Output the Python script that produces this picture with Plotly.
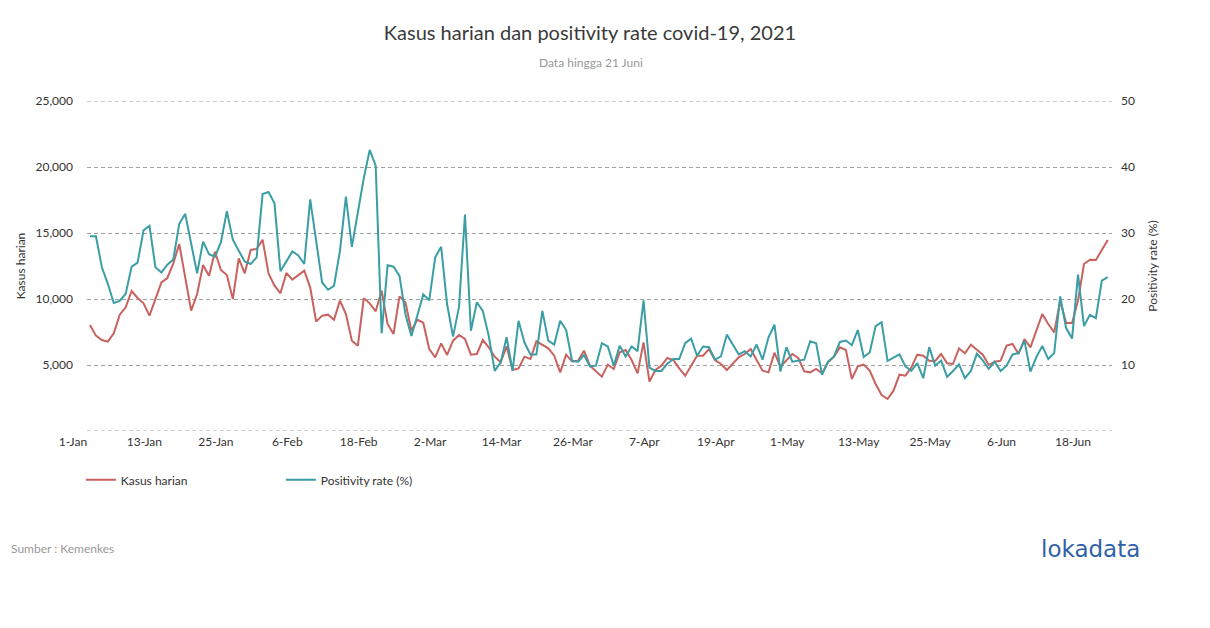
import plotly.graph_objects as go
import pandas as pd

# Dates: 1 Jan 2021 - 21 Jun 2021 (daily)
dates = pd.date_range("2021-01-01", "2021-06-21", freq="D")

kasus_harian = [
    8030, 7222, 6894, 6768, 7399, 8813, 9369, 10606, 10076, 9672,
    8737, 10025, 11263, 11591, 12702, 14167, 11600, 9116, 10379, 12576,
    11768, 13586, 12197, 11818, 10000, 13081, 11944, 13712, 13788, 14495,
    11944, 11010, 10429, 11970, 11465, 11818, 12146, 10884, 8283, 8737,
    8813, 8434, 9874, 8864, 6843, 6465, 10051, 9672, 9066, 10631,
    8106, 7348, 10202, 9747, 7601, 8434, 8200, 6212, 5581, 6641,
    5758, 6843, 7273, 6970, 5783, 5833, 6894, 6338, 5631, 5202,
    6414, 4621, 4747, 5631, 5455, 6793, 6540, 6263, 5707, 4444,
    5783, 5278, 5328, 6086, 4949, 4550, 4116, 5025, 4697, 5960,
    6136, 5379, 4369, 6717, 3737, 4621, 4949, 5530, 5379, 4747,
    4192, 4949, 5707, 5707, 6212, 5379, 5076, 4621, 5076, 5581,
    5833, 6212, 5379, 4571, 4444, 5934, 4874, 5379, 5833, 5530,
    4520, 4444, 4697, 4369, 5202, 5631, 6338, 6136, 3939, 4899,
    5025, 4571, 3561, 2727, 2424, 3056, 4268, 4192, 4823, 5783,
    5707, 5328, 5303, 5833, 5126, 5076, 6263, 5884, 6540, 6162,
    5783, 5000, 5253, 5328, 6465, 6591, 5833, 6970, 6338, 7601,
    8864, 8106, 7475, 9874, 8182, 8182, 9874, 12652, 12980, 12955,
    13712, 14470,
]

positivity_rate = [
    29.5, 29.5, 24.8, 22.3, 19.4, 19.7, 20.8, 24.9, 25.5, 30.4,
    31.1, 24.8, 24.0, 25.2, 26.0, 31.4, 32.9, 28.3, 23.9, 28.7,
    26.8, 26.4, 28.6, 33.3, 29.0, 27.3, 25.7, 25.3, 26.3, 35.9,
    36.2, 34.5, 24.2, 25.7, 27.2, 26.6, 25.3, 35.1, 28.8, 22.5,
    21.4, 22.0, 27.3, 35.5, 27.9, 32.9, 38.3, 42.6, 40.2, 14.8,
    25.1, 24.9, 23.5, 17.7, 14.4, 17.5, 20.7, 19.8, 26.3, 27.9,
    19.2, 14.3, 18.8, 32.8, 15.2, 19.5, 18.2, 14.4, 9.1, 10.4,
    14.2, 9.1, 16.7, 13.4, 11.6, 11.6, 18.2, 13.7, 13.1, 16.7,
    15.3, 10.6, 10.5, 11.5, 9.8, 9.9, 13.3, 12.8, 9.9, 12.9,
    11.3, 12.8, 12.1, 19.8, 9.6, 9.1, 9.1, 10.2, 10.9, 10.9,
    13.3, 14.0, 11.4, 12.8, 12.7, 10.8, 11.3, 14.6, 13.2, 11.6,
    12.1, 11.3, 13.1, 10.8, 14.2, 16.1, 9.0, 12.7, 10.5, 10.6,
    10.8, 13.6, 13.3, 8.5, 10.5, 11.3, 13.5, 13.7, 13.0, 15.3,
    11.2, 11.9, 15.9, 16.5, 10.6, 11.1, 11.6, 9.8, 9.1, 10.3,
    8.0, 12.7, 9.9, 10.7, 8.2, 9.1, 10.1, 8.0, 9.1, 11.7,
    10.7, 9.4, 10.5, 9.1, 9.9, 11.6, 11.8, 13.7, 9.0, 11.2,
    12.9, 10.9, 11.8, 20.4, 15.6, 14.0, 23.7, 15.9, 17.6, 17.1,
    22.8, 23.3,
]

x_tick_dates = ["2021-01-01", "2021-01-13", "2021-01-25", "2021-02-06", "2021-02-18",
                "2021-03-02", "2021-03-14", "2021-03-26", "2021-04-07", "2021-04-19",
                "2021-05-01", "2021-05-13", "2021-05-25", "2021-06-06", "2021-06-18"]
x_tick_labels = ["1-Jan", "13-Jan", "25-Jan", "6-Feb", "18-Feb", "2-Mar", "14-Mar",
                 "26-Mar", "7-Apr", "19-Apr", "1-May", "13-May", "25-May", "6-Jun", "18-Jun"]

left_tick_vals = [0, 5000, 10000, 15000, 20000, 25000]
left_tick_text = ["", "5,000", "10,000", "15,000", "20,000", "25,000"]
right_tick_vals = [10, 20, 30, 40, 50]

RED = "#c8625f"
TEAL = "#3a9ea4"
GRID = "#a0a0a0"
FONT = "Lato"
TXT = "#333333"

fig = go.Figure()
fig.add_trace(go.Scatter(x=dates, y=kasus_harian, name="Kasus harian", mode="lines",
                         line=dict(color=RED, width=2), yaxis="y"))
fig.add_trace(go.Scatter(x=dates, y=positivity_rate, name="Positivity rate (%)", mode="lines",
                         line=dict(color=TEAL, width=2), yaxis="y2"))

# Page body has an 8px margin, so the figure is sized/offset to compensate
W, H = 1202, 620
fig.update_layout(
    width=W, height=H,
    margin=dict(l=77, r=98, t=93, b=197),
    paper_bgcolor="white", plot_bgcolor="white",
    font=dict(family=FONT, size=12, color=TXT),
    showlegend=True,
    legend=dict(orientation="h", x=-0.006, xanchor="left", y=-0.148, yanchor="middle",
                entrywidth=155, entrywidthmode="pixels",
                font=dict(family=FONT, size=12, color=TXT)),
    xaxis=dict(
        range=[pd.Timestamp("2021-01-01") - pd.Timedelta(hours=12),
               pd.Timestamp("2021-06-21") + pd.Timedelta(hours=17)],
        tickvals=x_tick_dates, ticktext=x_tick_labels,
        showgrid=False, zeroline=False, showline=False, ticks="",
        ticklabelshift=-17, ticklabelstandoff=2,
        tickfont=dict(family=FONT, size=12, color=TXT),
    ),
    yaxis=dict(
        range=[0, 25000], tickvals=left_tick_vals, ticktext=left_tick_text,
        showgrid=True, gridcolor=GRID, griddash="4px,3px", gridwidth=1,
        zeroline=False, showline=False, ticks="", ticklabelstandoff=13,
        tickfont=dict(family=FONT, size=12, color=TXT),
        title=dict(text="Kasus harian", standoff=7,
                   font=dict(family=FONT, size=12, color=TXT)),
    ),
    yaxis2=dict(
        range=[0, 50], tickvals=right_tick_vals, overlaying="y", side="right",
        showgrid=False, zeroline=False, showline=False, ticks="", ticklabelstandoff=8,
        tickfont=dict(family=FONT, size=12, color=TXT),
        title=dict(text="Positivity rate (%)", standoff=14,
                   font=dict(family=FONT, size=12, color=TXT)),
    ),
    title=dict(text="Kasus harian dan positivity rate covid-19, 2021",
               x=582 / W, xanchor="center", y=1 - 25 / H, yanchor="middle",
               font=dict(family=FONT, size=20, color="#3a3a3a")),
    shapes=[
        dict(type="line", xref="paper", yref="y", x0=0, x1=1, y0=v, y1=v,
             line=dict(color=GRID, width=1, dash="4px,3px"), layer="below")
        for v in (left_tick_vals[0], left_tick_vals[-1])
    ],
    annotations=[
        dict(text="Data hingga 21 Juni", xref="paper", yref="paper",
             x=(590 - 85) / 1027, y=(431 - 63) / 330, xanchor="center", yanchor="middle",
             showarrow=False, font=dict(family=FONT, size=12, color="#999999")),
        dict(text="Sumber : Kemenkes", xref="paper", yref="paper",
             x=(7 - 85) / 1027, y=(431 - 548) / 330, xanchor="left", yanchor="middle",
             showarrow=False, font=dict(family=FONT, size=12, color="#999999")),
        dict(text="lokadata", xref="paper", yref="paper",
             x=(1090 - 85) / 1027, y=(431 - 549) / 330, xanchor="center", yanchor="middle",
             showarrow=False, font=dict(family="DejaVu Sans", size=23, color="#2f62a6")),
    ],
)

fig.write_html("out.html")
